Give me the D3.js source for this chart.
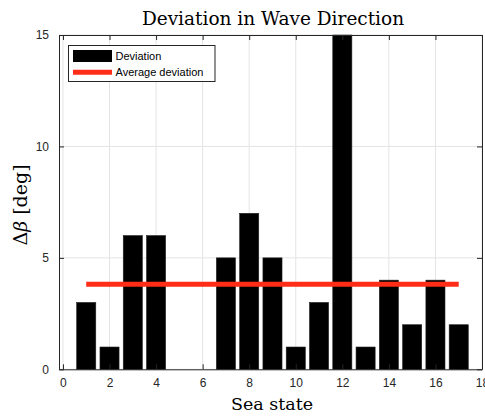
<!DOCTYPE html>
<html><head><meta charset="utf-8">
<script src="https://cdn.jsdelivr.net/npm/d3@7"></script>
<style>body{margin:0;background:#fff}svg{display:block}</style>
</head><body><svg id="c" width="485" height="416"></svg>
<script>
const seaStates = [1,2,3,4,5,6,7,8,9,10,11,12,13,14,15,16,17];
const deviation = [3,1,6,6,0,0,5,7,5,1,3,15,1,4,2,4,2];
const averageDeviation = 3.82;
const xTicks = [0,2,4,6,8,10,12,14,16,18];
const yTicks = [0,5,10,15];

const svg = d3.select("#c");
const L = 59, R = 482, T = 35, B = 369.3;
const x = d3.scaleLinear().domain([-0.17, 18]).range([L, R]);
const y = d3.scaleLinear().domain([0, 15]).range([B, T]);
const axisCol = "#262626";
const sans = "Liberation Sans, Arial, sans-serif";
const serif = "DejaVu Serif, serif";

// grid
const g = svg.append("g");
g.selectAll(".gx").data(xTicks).enter().append("line")
  .attr("x1", d => x(d)).attr("x2", d => x(d)).attr("y1", T).attr("y2", B)
  .attr("stroke", "#e4e4e4").attr("stroke-width", 1);
g.selectAll(".gy").data(yTicks).enter().append("line")
  .attr("x1", L).attr("x2", R).attr("y1", d => y(d)).attr("y2", d => y(d))
  .attr("stroke", "#e4e4e4").attr("stroke-width", 1);

// bars
const bw = 0.82;
svg.append("g").selectAll("rect").data(seaStates).enter().append("rect")
  .attr("x", d => x(d - bw/2)).attr("width", d => x(d + bw/2) - x(d - bw/2))
  .attr("y", (d,i) => y(Math.min(deviation[i], 15)))
  .attr("height", (d,i) => y(0) - y(Math.min(deviation[i], 15)))
  .attr("fill", "#000").attr("stroke", "#222").attr("stroke-width", 0.6);

// average line
svg.append("line")
  .attr("x1", x(seaStates[0])).attr("x2", x(seaStates[seaStates.length-1]))
  .attr("y1", y(averageDeviation)).attr("y2", y(averageDeviation))
  .attr("stroke", "#ff2d17").attr("stroke-width", 5);

// axes box
const axB = d3.axisBottom(x).tickValues(xTicks).tickSize(-5).tickPadding(9).tickSizeOuter(0);
const axT = d3.axisTop(x).tickValues(xTicks).tickSize(-5).tickFormat("").tickSizeOuter(0);
const axL = d3.axisLeft(y).tickValues(yTicks).tickSize(-5).tickPadding(10).tickSizeOuter(0);
const axR = d3.axisRight(y).tickValues(yTicks).tickSize(-5).tickFormat("").tickSizeOuter(0);

function style(sel){
  sel.selectAll("path").attr("stroke", axisCol).attr("stroke-width", 1);
  sel.selectAll("line").attr("stroke", axisCol).attr("stroke-width", 1);
  sel.selectAll("text").attr("fill", axisCol).style("font-family", sans).style("font-size", "12px");
}
svg.append("g").attr("transform", `translate(0,${B})`).call(axB).call(style);
svg.append("g").attr("transform", `translate(0,${T})`).call(axT).call(style);
svg.append("g").attr("transform", `translate(${L},0)`).call(axL).call(style);
svg.append("g").attr("transform", `translate(${R},0)`).call(axR).call(style);

// title & labels
svg.append("text").attr("x", 273).attr("y", 25).attr("text-anchor", "middle")
  .style("font-family", serif).style("font-size", "18.5px").attr("fill", "#000")
  .text("Deviation in Wave Direction");
svg.append("text").attr("x", 272).attr("y", 410).attr("text-anchor", "middle")
  .style("font-family", serif).style("font-size", "17.5px").attr("fill", "#000")
  .text("Sea state");
const yl = svg.append("text").attr("transform", `translate(27,205) rotate(-90)`)
  .attr("text-anchor", "middle").style("font-family", serif).style("font-size", "19px").attr("fill", "#000");
yl.append("tspan").text("Δ");
yl.append("tspan").style("font-style", "italic").text("β");
yl.append("tspan").text(" [deg]");

// legend
const lg = svg.append("g");
lg.append("rect").attr("x", 68.5).attr("y", 45.5).attr("width", 146.5).attr("height", 36)
  .attr("fill", "#fff").attr("stroke", axisCol).attr("stroke-width", 1);
lg.append("rect").attr("x", 73).attr("y", 50).attr("width", 39).attr("height", 12).attr("fill", "#000");
lg.append("line").attr("x1", 73).attr("x2", 112).attr("y1", 72.3).attr("y2", 72.3)
  .attr("stroke", "#ff2d17").attr("stroke-width", 5);
lg.append("text").attr("x", 115.5).attr("y", 60).style("font-family", sans).style("font-size", "11px")
  .attr("fill", "#000").text("Deviation");
lg.append("text").attr("x", 115.5).attr("y", 76).style("font-family", sans).style("font-size", "11px")
  .attr("fill", "#000").text("Average deviation");
</script></body></html>
